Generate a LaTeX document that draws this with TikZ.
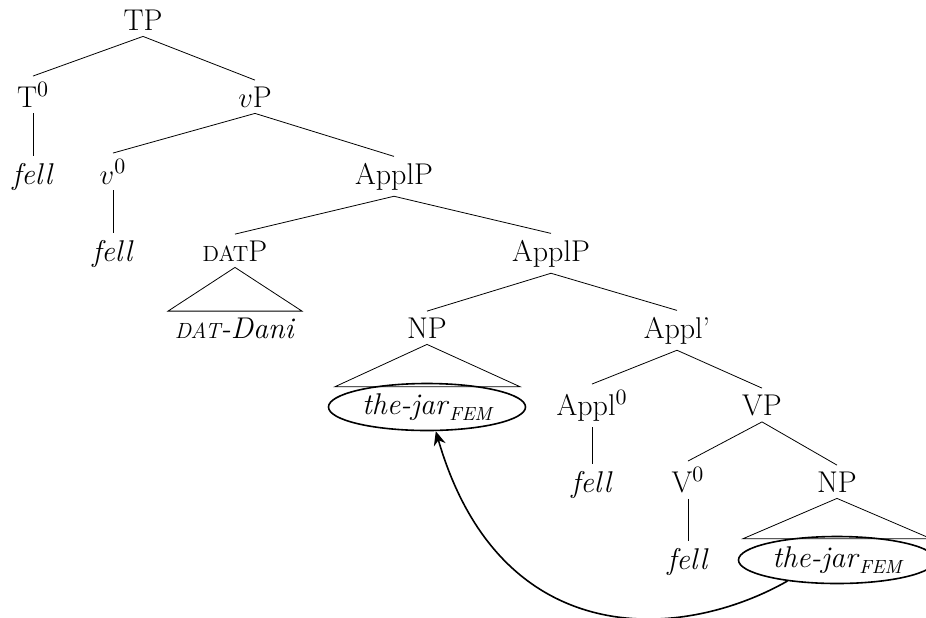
\documentclass[tikz,border=0pt]{standalone}
\usepackage{fontspec}
\usepackage{tikz}
\usetikzlibrary{calc,arrows.meta,shapes.geometric}
\newcommand{\fsc}[1]{{\fontsize{11}{12}\selectfont #1}}
\newcommand{\fscit}[1]{{\fontsize{11}{12}\selectfont\itshape #1}}
\tikzset{
  cat/.style={anchor=base, inner sep=3pt},
  jar/.style={ellipse, draw, thick, inner sep=0pt, minimum width=98.5pt, minimum height=23.5pt},
  branch/.style={thin},
}

\begin{document}
\begin{tikzpicture}[x=0.5pt, y=-0.5pt, font=\fontsize{15}{18}\selectfont]
\path[use as bounding box, clip] (0,0) rectangle (926,617);
% labels
\node[cat] (tp) at (143,30) {TP};
\node[cat] (t0) at (33,107) {T$^0$};
\node[cat] (vp) at (255,107) {$v$P};
\node[cat] (fell1) at (33,184) {\textit{fell}};
\node[cat] (v0) at (113,184) {$v^0$};
\node[cat] (applp1) at (394,184) {ApplP};
\node[cat] (fell2) at (113,261) {\textit{fell}};
\node[cat] (datp) at (235,261) {\fsc{DAT}P};
\node[cat] (applp2) at (551,261) {ApplP};
\node[cat] (dani) at (235,338) {\fscit{DAT}\textit{-Dani}};
\node[cat] (np1) at (427,338) {NP};
\node[cat] (applbar) at (677,338) {Appl’};
\node[jar] (jar1) at (427,407) {\textit{the-jar}\raisebox{-0.45ex}{\fontsize{9.5}{10}\selectfont\itshape FEM}};
\node[cat] (appl0) at (592,415) {Appl$^0$};
\node[cat] (vp2) at (762,415) {VP};
\node[cat] (fell3) at (592,492) {\textit{fell}};
\node[cat] (v02) at (688,492) {V$^0$};
\node[cat] (np2) at (837,492) {NP};
\node[cat] (fell4) at (688,569) {\textit{fell}};
\node[jar] (jar2) at (837,560) {\textit{the-jar}\raisebox{-0.45ex}{\fontsize{9.5}{10}\selectfont\itshape FEM}};
% branches
\foreach \a/\b in {tp/t0,tp/vp,t0/fell1,vp/v0,vp/applp1,v0/fell2,applp1/datp,applp1/applp2,
  applp2/np1,applp2/applbar,applbar/appl0,applbar/vp2,appl0/fell3,vp2/v02,vp2/np2,v02/fell4}
  \draw[branch] (\a.south) -- (\b.north);
% triangles
\draw[branch] (datp.south) -- ($(dani.north)+(-67,0)$) -- ($(dani.north)+(67,0)$) -- cycle;
\draw[branch] (np1.south) -- ($(jar1.north)+(-92,4)$) -- ($(jar1.north)+(93,4)$) -- cycle;
\draw[branch] (np2.south) -- ($(jar2.north)+(-94,3)$) -- ($(jar2.north)+(94,3)$) -- cycle;
% movement
\draw[thick, -{Stealth[length=7pt,width=6pt]}] (jar2.203) .. controls (680,642) and (500,652) .. (jar1.290);
\end{tikzpicture}
\end{document}
